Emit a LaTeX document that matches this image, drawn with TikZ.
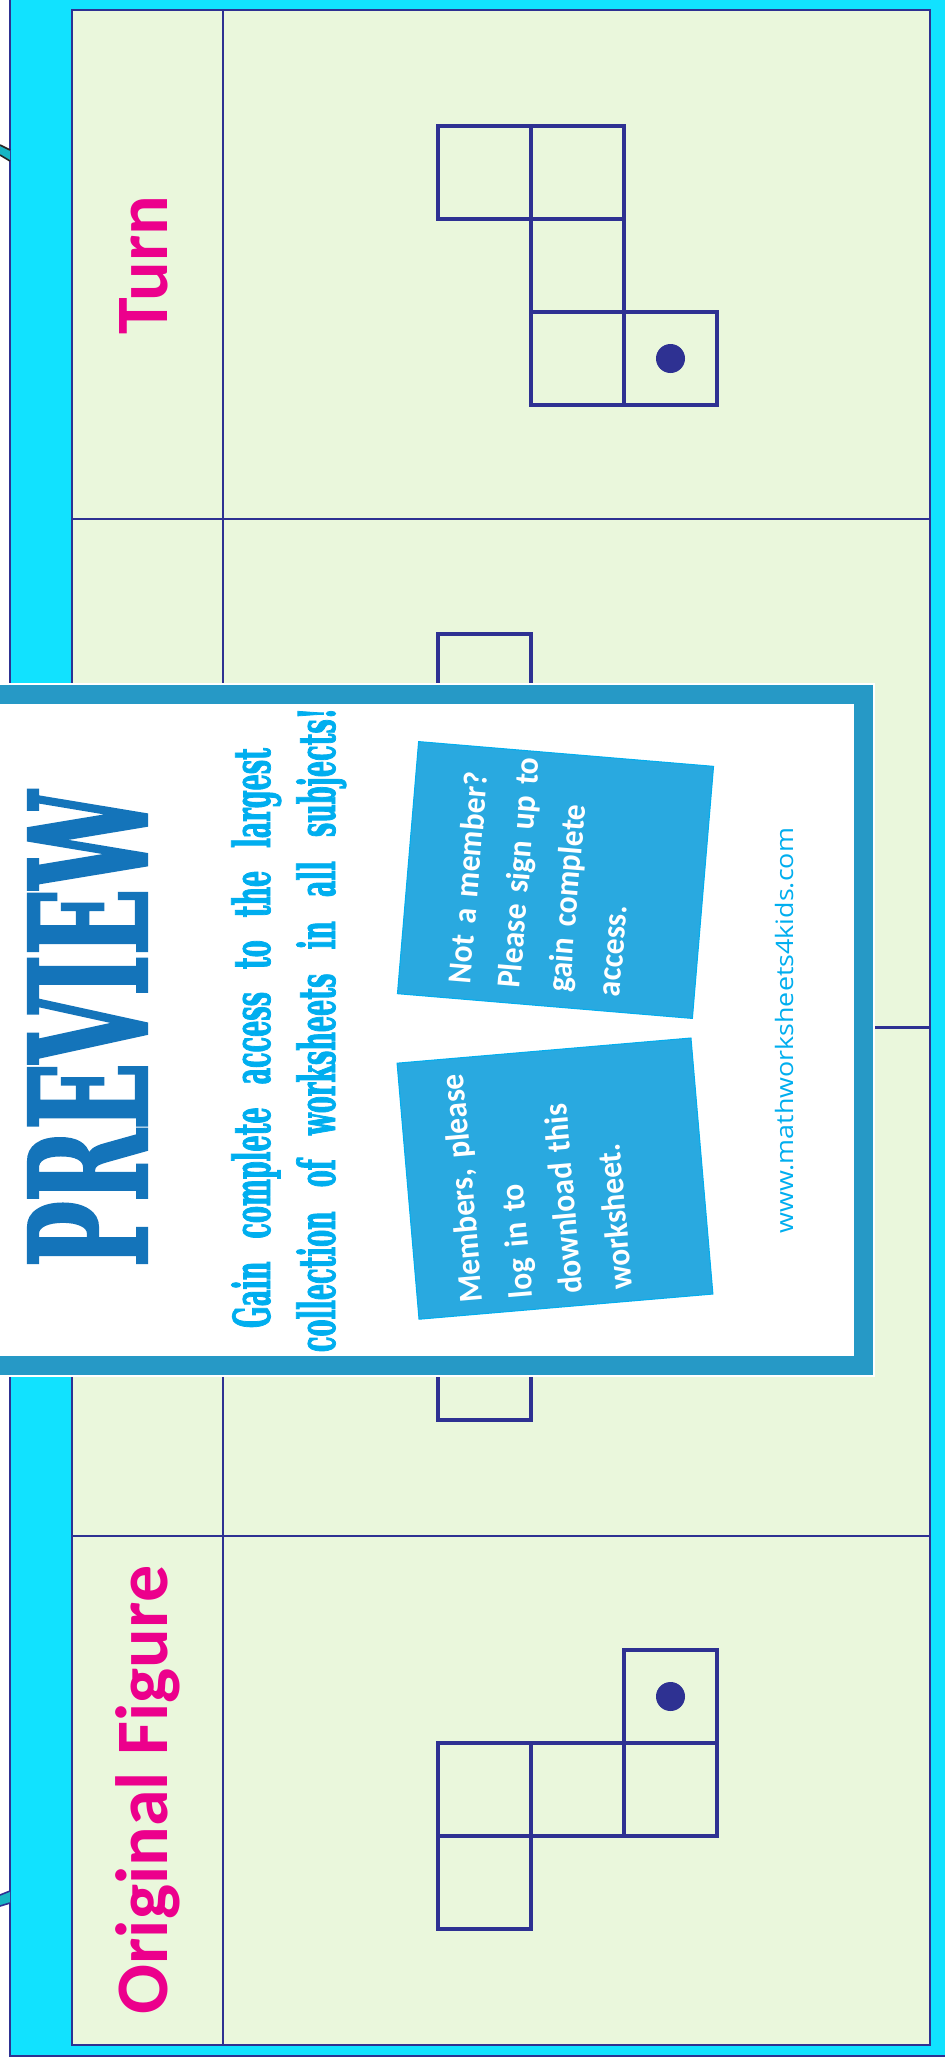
\documentclass[tikz,border=0pt]{standalone}
\usepackage{fontspec}
\usepackage{graphicx}
\setmainfont{Carlito}
\newfontfamily\slabfont{DejaVu Serif}[FakeStretch=0.5,BoldFeatures={FakeBold=1.5}]
\newfontfamily\webfont{Open Sans}
\usetikzlibrary{calc}
\definecolor{framecyan}{RGB}{17,226,255}
\definecolor{ink}{RGB}{46,49,146}
\definecolor{panelgreen}{RGB}{234,247,220}
\definecolor{labelpink}{RGB}{236,0,140}
\definecolor{previewblue}{RGB}{20,116,186}
\definecolor{textblue}{RGB}{0,174,239}
\definecolor{noteblue}{RGB}{41,169,224}
\definecolor{bandblue}{RGB}{38,153,198}
\definecolor{tabteal}{RGB}{23,182,196}

\begin{document}
\begin{tikzpicture}[x=1pt,y=-1pt,
  gridline/.style={ink,line width=2.2pt},
  cell/.style={ink,line width=4.6pt},
  rowlabel/.style={labelpink,rotate=90,anchor=base,inner sep=0pt,
    font=\bfseries\fontsize{74}{74}\selectfont},
  notebox/.style={fill=noteblue,draw=textblue,line width=1pt},
  notetext/.style={white,anchor=north west,text width=245pt,align=left,
    inner sep=0pt,font=\bfseries\fontsize{33.5}{50}\selectfont\addfontfeatures{FakeStretch=0.94}}]
  \useasboundingbox (0,0) rectangle (945,2062);
  \clip (0,0) rectangle (945,2062);
  \fill[white] (0,0) rectangle (945,2062);
  % outer frame and the two tabs on the left edge
  \draw[fill=framecyan,draw=ink,line width=2.5pt] (10,-20) rectangle (965,2056);
  \fill[tabteal] (0,145) -- (10,150) -- (10,161) -- (0,155) -- cycle;
  \draw[black!85,line width=1.6pt] (0,145) -- (10,150) (0,155) -- (10,161);
  \fill[tabteal] (0,1895) -- (10,1891) -- (10,1903) -- (0,1906) -- cycle;
  \draw[ink,line width=1.6pt] (0,1895) -- (10,1891) (0,1906) -- (10,1903);
  % panel with four rows
  \draw[gridline,fill=panelgreen] (72,10) rectangle (930,2045);
  \draw[gridline] (223,10) -- (223,2045);
  \foreach \y in {518.75,1027.5,1536.25}
    \draw[gridline] (72,\y) -- (930,\y);
  \node[rowlabel] (turn) at (167,265) {Turn};
  \node[rowlabel] (orig) at (167,1790) {Original Figure};
  % turned figure (row 1)
  \foreach \c/\r in {0/0,1/0,1/1,1/2,2/2}
    \draw[cell] ({438+93*\c},{126+93*\r}) rectangle ++(93,93);
  \fill[ink] (670.5,358.5) circle (14.5pt);
  % rows 2 and 3, mostly hidden
  \draw[cell] (438,634) rectangle ++(93,93);
  \draw[cell] (438,1327) rectangle ++(93,93);
  % original figure (row 4)
  \foreach \c/\r in {2/0,0/1,1/1,2/1,0/2}
    \draw[cell] ({438+93*\c},{1650+93*\r}) rectangle ++(93,93);
  \fill[ink] (670.5,1696.5) circle (14.5pt);
  % preview card
  \fill[white] (-60,682.5) rectangle (875,1377);
  \draw[fill=white,draw=bandblue,line width=19pt] (-40,694) rectangle (863,1365.5);
  \node[rotate=90,anchor=base,inner sep=0pt,previewblue] (prev) at (147,1029)
    {\slabfont\bfseries\fontsize{163}{163}\selectfont\resizebox{476pt}{\height}{PREVIEW}};
  \node[rotate=90,anchor=base,inner sep=0pt,textblue] (gain) at (270,1038)
    {\slabfont\bfseries\fontsize{51}{51}\selectfont\makebox[580pt][s]{Gain complete access to the largest}};
  \node[rotate=90,anchor=base,inner sep=0pt,textblue] (coll) at (335,1030)
    {\slabfont\bfseries\fontsize{51}{51}\selectfont\makebox[644pt][s]{collection of worksheets in all subjects!}};
  \begin{scope}[shift={(555.5,880)},rotate=85.2]
    \draw[notebox] (-126.5,-148) rectangle (126.5,148);
    \node[notetext,rotate=85.2] (join) at (-111.5,-100)
      {Not a member?\\Please sign up to\\gain complete\\access.};
  \end{scope}
  \begin{scope}[shift={(555,1178.6)},rotate=94.9]
    \draw[notebox] (-128.5,-147.5) rectangle (128.5,147.5);
    \node[notetext,rotate=94.9] (login) at (-116.5,-106)
      {Members, please\\log in to\\download this\\worksheet.};
  \end{scope}
  \node[rotate=90,anchor=base,inner sep=0pt,textblue] (web) at (793,1030.5)
    {\webfont\fontsize{24}{24}\selectfont\resizebox{405pt}{\height}{www.mathworksheets4kids.com}};
\end{tikzpicture}
\end{document}
